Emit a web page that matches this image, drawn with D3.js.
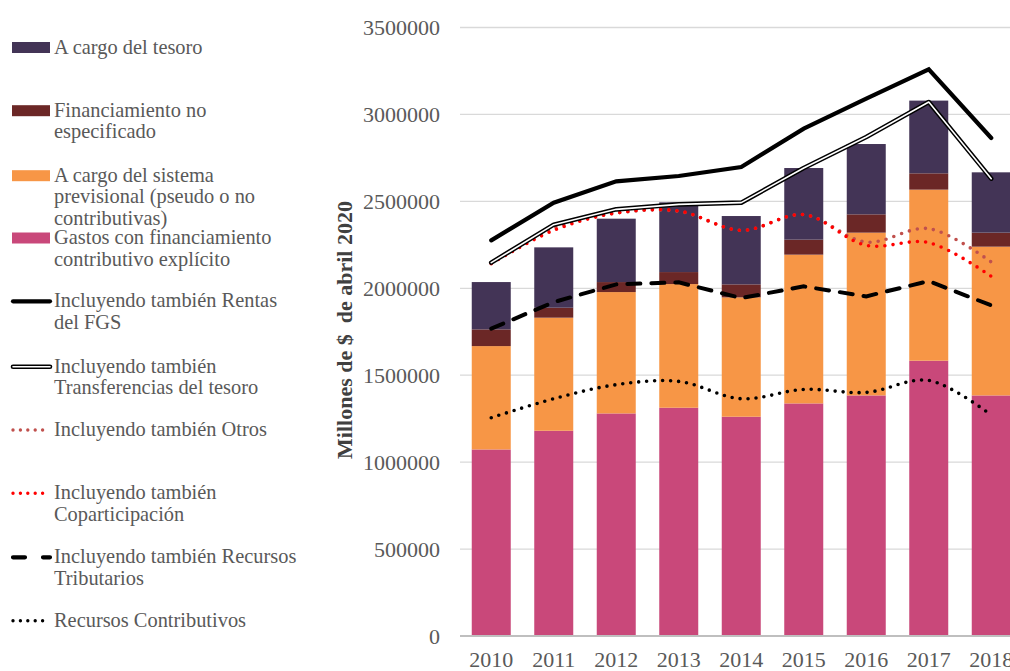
<!DOCTYPE html>
<html><head><meta charset="utf-8">
<script src="https://cdn.jsdelivr.net/npm/d3@7/dist/d3.min.js"></script>
<style>
html,body{margin:0;padding:0;background:#fff;overflow:hidden;}
svg{display:block;}
text{font-family:"Liberation Serif","Times New Roman",serif;}
</style></head>
<body>
<svg id="chart" width="1010" height="671"></svg>
<script>
const years = ["2010","2011","2012","2013","2014","2015","2016","2017","2018"];
// stacked bar components (bottom to top)
const gastosContributivo = [1073000,1180600,1280300,1313000,1261300,1337800,1383800,1583500,1383800];
const sistemaPrevisional = [594500,650300,697900,711300,686400,855600,936200,983900,855600];
const financiamientoNoEsp = [96100,57400,57600,69000,74800,86300,105300,93800,80600];
const cargoTesoro = [272200,347100,364600,401100,393100,412000,404500,418300,347000];
// lines
const rentasFGS = [2275700,2492600,2615200,2645700,2697500,2918400,3091000,3259700,2864300];
const transfTesoro = [2147400,2366000,2454100,2482900,2492600,2691700,2870000,3071500,2630700];
const otros = [2147000,2346500,2432700,2442500,2333200,2423600,2265900,2343000,2150800];
const coparticipacion = [2141600,2333200,2432700,2445000,2333200,2423600,2246900,2262500,2068600];
const recTributarios = [1767600,1920700,2022500,2034000,1943700,2011000,1953500,2041500,1901700];
const recContributivos = [1255500,1364800,1445400,1464400,1364800,1418400,1401100,1470100,1270500];
const yTicks = [0,500000,1000000,1500000,2000000,2500000,3000000,3500000];

const barSeries = [
  {name:"Gastos con financiamiento contributivo explícito", values:gastosContributivo, color:"#c9487a"},
  {name:"A cargo del sistema previsional (pseudo o no contributivas)", values:sistemaPrevisional, color:"#f79646"},
  {name:"Financiamiento no especificado", values:financiamientoNoEsp, color:"#6b2726"},
  {name:"A cargo del tesoro", values:cargoTesoro, color:"#433456"}
];

const svg = d3.select("#chart");
const x = d3.scaleBand().domain(years).range([460, 1022.5]).paddingInner(0.376).paddingOuter(0.188);
const y = d3.scaleLinear().domain([0,3500000]).range([636, 27.5]);

// gridlines
svg.append("g").selectAll("line").data(yTicks.filter(d=>d>0)).join("line")
  .attr("x1",460).attr("x2",1010).attr("y1",d=>y(d)).attr("y2",d=>y(d))
  .attr("stroke","#d9d9d9").attr("stroke-width",1.3);

// y axis labels
const yAxis = d3.axisLeft(y).tickValues(yTicks).tickSize(0).tickPadding(0).tickFormat(d3.format("d"));
const ya = svg.append("g").attr("transform","translate(440,0)").call(yAxis);
ya.select(".domain").remove();
ya.selectAll("text").attr("font-size",22).attr("fill","#595959")
  .attr("font-family","Liberation Serif, serif").attr("dy","0.32em");

// stacked bars
const stackData = years.map((yr,i)=>{const o={year:yr}; barSeries.forEach((s,k)=>o["s"+k]=s.values[i]); return o;});
const stack = d3.stack().keys(barSeries.map((s,k)=>"s"+k));
const layers = stack(stackData);
svg.append("g").selectAll("g").data(layers).join("g")
  .attr("fill",(d,i)=>barSeries[i].color)
  .selectAll("rect").data(d=>d).join("rect")
  .attr("x",d=>x(d.data.year)).attr("width",x.bandwidth())
  .attr("y",d=>y(d[1])).attr("height",d=>y(d[0])-y(d[1]));

// x axis
const xAxis = d3.axisBottom(x).tickSize(0).tickPadding(0);
const xa = svg.append("g").attr("transform","translate(0,636)").call(xAxis);
xa.select(".domain").attr("stroke","#bfbfbf").attr("stroke-width",2).attr("d","M460,0H1010");
xa.selectAll("text").attr("font-size",22).attr("fill","#595959")
  .attr("font-family","Liberation Serif, serif").attr("dy","1.4em");

const cx = d => x(d) + x.bandwidth()/2;
const lineStraight = d3.line().x((d,i)=>cx(years[i])).y(d=>y(d));
const lineSmooth = d3.line().x((d,i)=>cx(years[i])).y(d=>y(d)).curve(d3.curveCatmullRom.alpha(0.5));

const g = svg.append("g").attr("fill","none");
// recursos contributivos dotted black
g.append("path").attr("d",lineSmooth(recContributivos)).attr("stroke","#000").attr("stroke-width",3.6)
  .attr("stroke-linecap","round").attr("stroke-dasharray","0,8");
// tributarios dashed
g.append("path").attr("d",lineStraight(recTributarios)).attr("stroke","#000").attr("stroke-width",4)
  .attr("stroke-linecap","round").attr("stroke-dasharray","13,11");
// otros
g.append("path").attr("d",lineSmooth(otros)).attr("stroke","#c0504d").attr("stroke-width",3.6)
  .attr("stroke-linecap","round").attr("stroke-dasharray","0,8.2");
// coparticipacion
g.append("path").attr("d",lineSmooth(coparticipacion)).attr("stroke","#ff0000").attr("stroke-width",3.6)
  .attr("stroke-linecap","round").attr("stroke-dasharray","0,8.2");
// transferencias double line
g.append("path").attr("d",lineStraight(transfTesoro)).attr("stroke","#000").attr("stroke-width",4.6)
  .attr("stroke-linecap","round").attr("stroke-linejoin","round");
g.append("path").attr("d",lineStraight(transfTesoro)).attr("stroke","#fff").attr("stroke-width",1.6)
  .attr("stroke-linecap","round").attr("stroke-linejoin","round");
// rentas FGS
g.append("path").attr("d",lineStraight(rentasFGS)).attr("stroke","#000").attr("stroke-width",4.2)
  .attr("stroke-linecap","round").attr("stroke-linejoin","miter");

// axis title
svg.append("text").attr("transform","translate(352,330) rotate(-90)")
  .attr("text-anchor","middle").attr("font-size",22).attr("font-weight","bold").attr("fill","#404040")
  .attr("xml:space","preserve").style("white-space","pre")
  .text("Millones de $  de abril 2020");

// legend
const legendItems = [
  {type:"rect", color:"#433456", lines:["A cargo del tesoro"], base:53.5},
  {type:"rect", color:"#6b2726", lines:["Financiamiento no","especificado"], base:116.7},
  {type:"rect", color:"#f79646", lines:["A cargo del sistema","previsional (pseudo o no","contributivas)"], base:181.7},
  {type:"rect", color:"#c9487a", lines:["Gastos con financiamiento","contributivo explícito"], base:244},
  {type:"solid", lines:["Incluyendo también Rentas","del FGS"], base:307.3},
  {type:"double", lines:["Incluyendo también","Transferencias del tesoro"], base:372.7},
  {type:"dot", color:"#c0504d", lines:["Incluyendo también Otros"], base:436},
  {type:"dot", color:"#ff0000", lines:["Incluyendo también","Coparticipación"], base:499.3},
  {type:"dash", lines:["Incluyendo también Recursos","Tributarios"], base:563.3},
  {type:"dotblack", lines:["Recursos Contributivos"], base:626.7}
];
const lg = svg.append("g");
legendItems.forEach(it=>{
  const cy = it.base - 6;
  if(it.type==="rect"){
    lg.append("rect").attr("x",12).attr("y",cy-5.5).attr("width",38).attr("height",11).attr("fill",it.color);
  } else if(it.type==="solid"){
    lg.append("line").attr("x1",13).attr("x2",50).attr("y1",cy).attr("y2",cy).attr("stroke","#000").attr("stroke-width",4.2).attr("stroke-linecap","round");
  } else if(it.type==="double"){
    lg.append("line").attr("x1",13).attr("x2",50).attr("y1",cy).attr("y2",cy).attr("stroke","#000").attr("stroke-width",4.6).attr("stroke-linecap","round");
    lg.append("line").attr("x1",13).attr("x2",50).attr("y1",cy).attr("y2",cy).attr("stroke","#fff").attr("stroke-width",1.6).attr("stroke-linecap","round");
  } else if(it.type==="dot" || it.type==="dotblack"){
    lg.append("line").attr("x1",13).attr("x2",50).attr("y1",cy).attr("y2",cy).attr("stroke",it.color||"#000").attr("stroke-width",3.4).attr("stroke-linecap","round").attr("stroke-dasharray","0,7.4");
  } else if(it.type==="dash"){
    lg.append("line").attr("x1",13).attr("x2",50).attr("y1",cy).attr("y2",cy).attr("stroke","#000").attr("stroke-width",4.2).attr("stroke-linecap","round").attr("stroke-dasharray","12,18");
  }
  const t = lg.append("text").attr("x",54).attr("y",it.base).attr("font-size",20.4).attr("fill","#595959");
  it.lines.forEach((ln,i)=>{
    t.append("tspan").attr("x",54).attr("dy", i===0?0:21.7).text(ln);
  });
});
</script>
</body></html>
